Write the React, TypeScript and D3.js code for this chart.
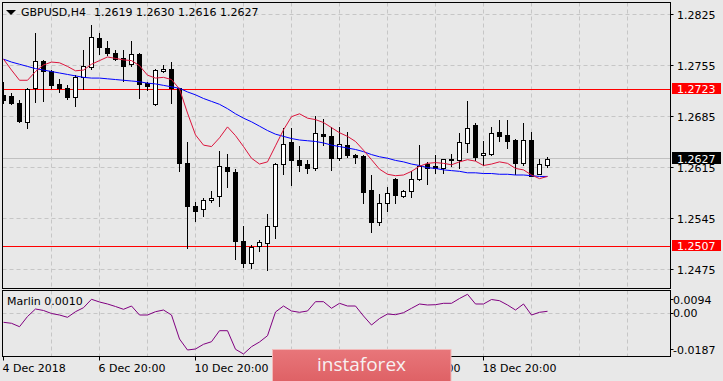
import React from "react";
import * as d3 from "d3";

const symbolTitle = "GBPUSD,H4";
const headerValues = "1.2619 1.2630 1.2616 1.2627";

const opens = [
  1.2715, 1.2714, 1.2704, 1.2678, 1.2724, 1.2762, 1.2748, 1.2730, 1.2724, 1.2712,
  1.2739, 1.2753, 1.2793, 1.2779, 1.2773, 1.2765, 1.2757, 1.2771, 1.2731, 1.2702,
  1.2748, 1.2750, 1.2724, 1.2622, 1.2563, 1.2558, 1.2571, 1.2576, 1.2616, 1.2609,
  1.2514, 1.2484, 1.2507, 1.2512, 1.2535, 1.2620, 1.2650, 1.2626, 1.2620, 1.2615,
  1.2661, 1.2658, 1.2628, 1.2646, 1.2633, 1.2631, 1.2584, 1.2540, 1.2567, 1.2600,
  1.2576, 1.2583, 1.2600, 1.2620, 1.2617, 1.2615, 1.2627, 1.2626, 1.2649, 1.2673,
  1.2632, 1.2634, 1.2664, 1.2660, 1.2653, 1.2621, 1.2653, 1.2606, 1.2619,
];
const highs = [
  1.2733, 1.2717, 1.2708, 1.2724, 1.2800, 1.2763, 1.2749, 1.2737, 1.2729, 1.2742,
  1.2776, 1.2811, 1.2800, 1.2789, 1.2777, 1.2776, 1.2789, 1.2772, 1.2733, 1.2750,
  1.2756, 1.2760, 1.2725, 1.2650, 1.2568, 1.2573, 1.2583, 1.2638, 1.2634, 1.2613,
  1.2535, 1.2509, 1.2516, 1.2552, 1.2622, 1.2670, 1.2670, 1.2645, 1.2626, 1.2686,
  1.2682, 1.2671, 1.2671, 1.2664, 1.2634, 1.2632, 1.2605, 1.2579, 1.2588, 1.2601,
  1.2584, 1.2610, 1.2646, 1.2623, 1.2633, 1.2627, 1.2634, 1.2662, 1.2706, 1.2676,
  1.2651, 1.2671, 1.2680, 1.2680, 1.2654, 1.2676, 1.2664, 1.2627, 1.2630,
];
const lows = [
  1.2704, 1.2703, 1.2678, 1.2669, 1.2705, 1.2706, 1.2724, 1.2719, 1.2709, 1.2699,
  1.2723, 1.2750, 1.2771, 1.2770, 1.2763, 1.2734, 1.2755, 1.2710, 1.2721, 1.2701,
  1.2747, 1.2704, 1.2611, 1.2505, 1.2542, 1.2549, 1.2568, 1.2563, 1.2589, 1.2490,
  1.2479, 1.2478, 1.2501, 1.2475, 1.2519, 1.2606, 1.2591, 1.2611, 1.2608, 1.2612,
  1.2646, 1.2612, 1.2626, 1.2630, 1.2622, 1.2567, 1.2527, 1.2536, 1.2555, 1.2567,
  1.2575, 1.2575, 1.2598, 1.2592, 1.2608, 1.2608, 1.2617, 1.2615, 1.2636, 1.2626,
  1.2619, 1.2632, 1.2651, 1.2642, 1.2606, 1.2619, 1.2603, 1.2606, 1.2616,
];
const closes = [
  1.2708, 1.2704, 1.2679, 1.2723, 1.2762, 1.2748, 1.2729, 1.2725, 1.2712, 1.2740,
  1.2754, 1.2794, 1.2780, 1.2773, 1.2764, 1.2755, 1.2771, 1.2730, 1.2727, 1.2749,
  1.2751, 1.2725, 1.2621, 1.2562, 1.2556, 1.2570, 1.2574, 1.2617, 1.2610, 1.2515,
  1.2484, 1.2506, 1.2513, 1.2535, 1.2620, 1.2648, 1.2625, 1.2619, 1.2615, 1.2662,
  1.2659, 1.2629, 1.2648, 1.2633, 1.2630, 1.2582, 1.2540, 1.2566, 1.2580, 1.2577,
  1.2583, 1.2599, 1.2618, 1.2615, 1.2614, 1.2627, 1.2625, 1.2650, 1.2670, 1.2630,
  1.2635, 1.2662, 1.2659, 1.2652, 1.2621, 1.2653, 1.2604, 1.2620, 1.2627,
];
const fastMA = [
  1.2764, 1.2749, 1.2735, 1.2735, 1.2747, 1.2756, 1.2760, 1.2759, 1.2754, 1.2748,
  1.2749, 1.2757, 1.2762, 1.2767, 1.2765, 1.2763, 1.2762, 1.2755, 1.2742, 1.2738,
  1.2739, 1.2736, 1.2723, 1.2690, 1.2660, 1.2646, 1.2644, 1.2656, 1.2671, 1.2659,
  1.2644, 1.2628, 1.2620, 1.2623, 1.2645, 1.2667, 1.2685, 1.2689, 1.2683, 1.2681,
  1.2677, 1.2670, 1.2663, 1.2658, 1.2651, 1.2639, 1.2626, 1.2613, 1.2606, 1.2604,
  1.2605, 1.2610, 1.2617, 1.2621, 1.2622, 1.2621, 1.2619, 1.2623, 1.2626, 1.2624,
  1.2618, 1.2620, 1.2623, 1.2621, 1.2614, 1.2612, 1.2605, 1.2600, 1.2603,
];
const slowMA = [
  1.2764, 1.2760, 1.2757, 1.2754, 1.2751, 1.2749, 1.2747, 1.2745, 1.2743, 1.2741,
  1.2739, 1.2738, 1.2738, 1.2737, 1.2736, 1.2735, 1.2734, 1.2733, 1.2731, 1.2730,
  1.2728, 1.2726, 1.2724, 1.2719, 1.2715, 1.2710, 1.2706, 1.2702, 1.2696, 1.2689,
  1.2683, 1.2678, 1.2672, 1.2666, 1.2661, 1.2658, 1.2655, 1.2653, 1.2652, 1.2651,
  1.2649, 1.2646, 1.2644, 1.2642, 1.2640, 1.2637, 1.2633, 1.2630, 1.2628, 1.2625,
  1.2623, 1.2620, 1.2618, 1.2615, 1.2614, 1.2612, 1.2611, 1.2610, 1.2608, 1.2608,
  1.2607, 1.2607, 1.2606, 1.2606, 1.2605, 1.2605, 1.2604, 1.2603, 1.2603,
];
const marlin = [
  -0.00393, -0.00435, -0.0058, -0.00146, 0.00174, 0.0011, -0.00018, -0.00082, -0.0018, 0.00059,
  0.00229, 0.00587, 0.00472, 0.00387, 0.0028, 0.00161, 0.00301, -0.00082, -0.00082, 0.00059,
  0.00131, -0.00082, -0.01104, -0.01572, -0.01529, -0.01329, -0.01219, -0.0075, -0.0075, -0.01542,
  -0.01742, -0.01431, -0.01231, -0.00963, 0.00046, 0.00301, 0.00089, 0.00033, 0.00089, 0.00485,
  0.00485, 0.00204, 0.00416, 0.00301, 0.00301, -0.00124, -0.00508, -0.00231, -0.00039, -0.00069,
  0.00016, 0.00204, 0.00387, 0.00344, 0.00357, 0.00416, 0.00416, 0.00621, 0.008, 0.00387,
  0.00387, 0.00578, 0.00527, 0.00344, 0.00131, 0.00387, -0.00082, 0.00033, 0.00076,
];

const priceTicks = [1.2825, 1.2755, 1.2685, 1.2615, 1.2545, 1.2475];
const levelLines = [1.2723, 1.2507];
const lastPrice = 1.2627;
const marlinTicks = [0.0094, 0.0, -0.0187];
const marlinTickLabels = ["0.0094", "0.00", "-0.0187"];
const indicatorName = "Marlin 0.0010";
const dateLabelIndex = [0, 12, 24, 36, 48, 60];
const dateLabels = ["4 Dec 2018", "6 Dec 20:00", "10 Dec 20:00", "12 Dec 20:00", "14 Dec 20:00", "18 Dec 20:00"];
const watermarkText = "instaforex";

const W = 723;
const H = 381;
const FONT = "'DejaVu Sans', Tahoma, sans-serif";

export default function App() {
  const n = closes.length;
  const left = 2.5, right = 670.5, top = 2.5, mainBottom = 288.5;
  const indTop = 290.5, indBottom = 356.5;

  const x = d3.scaleLinear().domain([0, 68]).range([3.5, 547.5]);
  const y = d3.scaleLinear().domain([1.2475, 1.2825]).range([269.7, 14.7]);
  const yi = d3.scaleLinear().domain([-0.0187, 0.0094]).range([357, 291]);
  const crisp = (v: number) => Math.round(v - 0.5) + 0.5;

  const idx = d3.range(n);
  const fastLine = d3.line<number>().x((i) => x(i)).y((i) => y(fastMA[i]));
  const slowLine = d3.line<number>().x((i) => x(i)).y((i) => y(slowMA[i]));
  const marlinLine = d3.line<number>().x((i) => x(i)).y((i) => yi(marlin[i]));

  const gridX = d3.range(0, 120, 6).map((i) => crisp(x(i))).filter((v) => v > left + 1 && v < right - 1);
  const grid = "#c6c6c6";

  return (
    <svg width={W} height={H} style={{ position: "absolute", left: 0, top: 0, background: "#e8e8e8" }} fontFamily={FONT} fontSize={11}>
      <defs>
        <clipPath id="mainClip">
          <rect x={left + 0.5} y={top + 0.5} width={right - left - 1} height={mainBottom - top - 1} />
        </clipPath>
        <clipPath id="indClip">
          <rect x={left + 0.5} y={indTop + 0.5} width={right - left - 1} height={indBottom - indTop - 1} />
        </clipPath>
        <linearGradient id="wm" x1="0" y1="0" x2="0" y2="1">
          <stop offset="0" stopColor="#e8767a" />
          <stop offset="1" stopColor="#de6064" />
        </linearGradient>
      </defs>
      <rect x={0} y={0} width={W} height={H} fill="#e8e8e8" />

      {/* main panel grid */}
      <g clipPath="url(#mainClip)">
        {gridX.map((gx, k) => (
          <line key={"gx" + k} x1={gx} x2={gx} y1={top} y2={mainBottom} stroke={grid} strokeDasharray="4,3" />
        ))}
        {priceTicks.map((p, k) => (
          <line key={"gy" + k} x1={left} x2={right} y1={crisp(y(p))} y2={crisp(y(p))} stroke={grid} strokeDasharray="4,3" />
        ))}
        <line x1={left} x2={right} y1={crisp(y(lastPrice))} y2={crisp(y(lastPrice))} stroke="#c0c0c0" />
        {levelLines.map((p, k) => (
          <line key={"lv" + k} x1={left} x2={right} y1={crisp(y(p))} y2={crisp(y(p))} stroke="#ff0000" />
        ))}

        {/* candles */}
        {idx.map((i) => {
          const cx = crisp(x(i));
          const o = opens[i], c = closes[i];
          const bull = c >= o;
          const yTop = Math.round(y(Math.max(o, c)));
          const yBot = Math.round(y(Math.min(o, c)));
          return (
            <g key={"c" + i}>
              <line x1={cx} x2={cx} y1={Math.round(y(highs[i]))} y2={Math.round(y(lows[i])) + 1} stroke="#000" />
              <rect x={cx - 2} y={yTop + 0.5} width={4} height={Math.max(yBot - yTop, 0)} fill={bull ? "#fff" : "#000"} stroke="#000" />
            </g>
          );
        })}

        <path d={slowLine(idx) || ""} fill="none" stroke="#0000ff" strokeWidth={1} />
        <path d={fastLine(idx) || ""} fill="none" stroke="#dc143c" strokeWidth={1} />
      </g>

      {/* header */}
      <polygon points="6,10 16,10 11,15" fill="#000" />
      <text x={21} y={16} fill="#000">{symbolTitle}</text>
      <text x={94} y={16} fill="#000">{headerValues}</text>

      {/* indicator panel */}
      <g clipPath="url(#indClip)">
        {gridX.map((gx, k) => (
          <line key={"igx" + k} x1={gx} x2={gx} y1={indTop} y2={indBottom} stroke={grid} strokeDasharray="4,3" />
        ))}
        <line x1={left} x2={right} y1={crisp(yi(0))} y2={crisp(yi(0))} stroke={grid} strokeDasharray="4,3" />
        <path d={marlinLine(idx) || ""} fill="none" stroke="#800080" strokeWidth={1} />
      </g>
      <text x={7} y={305} fill="#000">{indicatorName}</text>

      {/* panel borders */}
      <rect x={left} y={top} width={right - left} height={mainBottom - top} fill="none" stroke="#000" />
      <rect x={left} y={indTop} width={right - left} height={indBottom - indTop} fill="none" stroke="#000" />

      {/* right price axis */}
      {priceTicks.map((p, k) => (
        <g key={"pt" + k}>
          <line x1={right} x2={right + 3} y1={crisp(y(p))} y2={crisp(y(p))} stroke="#000" />
          <text x={677} y={y(p) + 4} fill="#000">{p.toFixed(4)}</text>
        </g>
      ))}
      {levelLines.map((p, k) => (
        <g key={"lb" + k}>
          <rect x={672} y={Math.round(y(p)) - 6} width={49} height={11} fill="#ff0000" />
          <text x={677} y={y(p) + 4} fill="#fff">{p.toFixed(4)}</text>
        </g>
      ))}
      <rect x={672} y={Math.round(y(lastPrice)) - 7} width={49} height={12} fill="#000" />
      <text x={677} y={y(lastPrice) + 4} fill="#fff">{lastPrice.toFixed(4)}</text>

      {/* indicator axis */}
      {marlinTicks.map((v, k) => {
        const yy = Math.min(Math.max(yi(v), indTop + 9), indBottom - 7);
        return (
          <g key={"mt" + k}>
            <line x1={right} x2={right + 3} y1={crisp(yy)} y2={crisp(yy)} stroke="#000" />
            <text x={673} y={yy + 4} fill="#000">{marlinTickLabels[k]}</text>
          </g>
        );
      })}

      {/* time axis */}
      {dateLabelIndex.map((i, k) => (
        <g key={"dl" + k}>
          <line x1={crisp(x(i))} x2={crisp(x(i))} y1={indBottom} y2={indBottom + 4} stroke="#000" />
          <text x={x(i) - 1} y={372} fill="#000">{dateLabels[k]}</text>
        </g>
      ))}

      {/* watermark */}
      <rect x={272.5} y={349.5} width={178.5} height={34} fill="url(#wm)" stroke="#f2b9b9" strokeWidth={1} />
      <text x={361.5} y={371} textAnchor="middle" fill="#f7f0f0" fontFamily="'Open Sans', sans-serif" fontSize={19}>{watermarkText}</text>
    </svg>
  );
}
